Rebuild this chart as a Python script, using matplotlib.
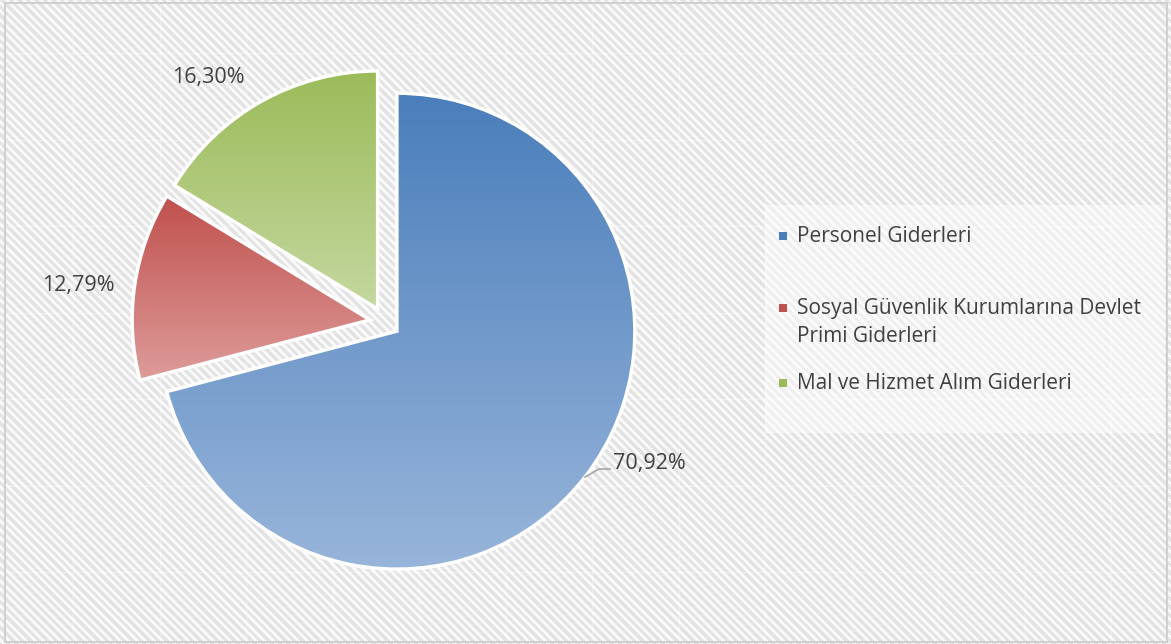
import numpy as np
import matplotlib
matplotlib.use("Agg")
import matplotlib.pyplot as plt
from matplotlib.patches import Rectangle

# gider dagilimi (%)
categories = ["Personel Giderleri",
              "Sosyal Güvenlik Kurumlarına Devlet\nPrimi Giderleri",
              "Mal ve Hizmet Alım Giderleri"]
shares = [70.92, 12.79, 16.30]
top_colors = ["#4a7ebb", "#c0504d", "#9bbb59"]
bottom_colors = ["#98b5da", "#dd9c9a", "#c5d8a0"]

W, H = 1171, 644
FONT = ["Open Sans", "DejaVu Sans"]
TXT = "#404040"

fig = plt.figure(figsize=(W / 100, H / 100), dpi=100)
ax = fig.add_axes([0, 0, 1, 1])

# striped background texture
yy, xx = np.mgrid[0:H, 0:W]
stripe = ((xx - yy) % 8.5) / 8.5
tex = np.where(stripe < 0.5, 0.89, 0.975)
ax.imshow(tex, cmap="gray", vmin=0, vmax=1, extent=(0, W, 0, H),
          interpolation="bilinear", zorder=0)
for gx in np.arange(73, W, 86.5):
    ax.axvline(gx, color="white", lw=1.0, alpha=0.35, zorder=0.5)
for gy in np.arange(53, H, 86.5):
    ax.axhline(H - gy, color="white", lw=1.0, alpha=0.35, zorder=0.5)
ax.add_patch(Rectangle((5, 2), W - 9, H - 5, fill=False, ec="#d0d0d0",
                       lw=1.5, zorder=5))

# pie
cx, cy, R = 385, H - 322, 238
wedges, _ = ax.pie(shares, radius=R, center=(cx, cy), startangle=90,
                   counterclock=False, explode=[15, 15, 15],
                   wedgeprops=dict(fc="none", ec="white", lw=2.5),
                   frame=True)
for w, c0, c1 in zip(wedges, top_colors, bottom_colors):
    w.set_zorder(3)
    t = np.radians(np.linspace(w.theta1, w.theta2, 200))
    px = np.concatenate([[w.center[0]], w.center[0] + w.r * np.cos(t)])
    py = np.concatenate([[w.center[1]], w.center[1] + w.r * np.sin(t)])
    a = np.array(matplotlib.colors.to_rgb(c0))
    b = np.array(matplotlib.colors.to_rgb(c1))
    f = np.linspace(0, 1, 256)[:, None]
    grad = (a * (1 - f) + b * f)[:, None, :]
    im = ax.imshow(grad, extent=(px.min(), px.max(), py.min(), py.max()),
                   aspect="auto", zorder=2, interpolation="bilinear")
    im.set_clip_path(w)

# value labels
def fmt(v):
    return ("%.2f" % v).replace(".", ",") + "%"

label_pos = [(613, 463, "left"), (78, 285, "center"), (208, 77, "center")]
for v, (lx, ly, ha) in zip(shares, label_pos):
    ax.text(lx, H - ly, fmt(v), ha=ha, va="center", fontsize=15.5,
            color=TXT, family=FONT, zorder=6)
ax.plot([585, 599, 610], [H - 477, H - 469, H - 469], color="#a6a6a6",
        lw=1.2, zorder=6)

# legend box
ax.add_patch(Rectangle((765, H - 433), 400, 228, fc="white", ec="none",
                       alpha=0.45, zorder=4))
leg_y = [236, 308, 383]
for lab, c, y in zip(categories, top_colors, leg_y):
    ax.add_patch(Rectangle((779, H - y - 4), 8, 8, fc=c, ec="none", zorder=6))
    if "\n" in lab:
        ax.text(797, H - y + 10, lab, ha="left", va="top", fontsize=15,
                color=TXT, family=FONT, zorder=6, linespacing=1.45)
    else:
        ax.text(797, H - y, lab, ha="left", va="center", fontsize=15,
                color=TXT, family=FONT, zorder=6)

ax.set_xlim(0, W)
ax.set_ylim(0, H)
ax.set_aspect("auto")
ax.axis("off")
fig.savefig("out.png", dpi=100)
